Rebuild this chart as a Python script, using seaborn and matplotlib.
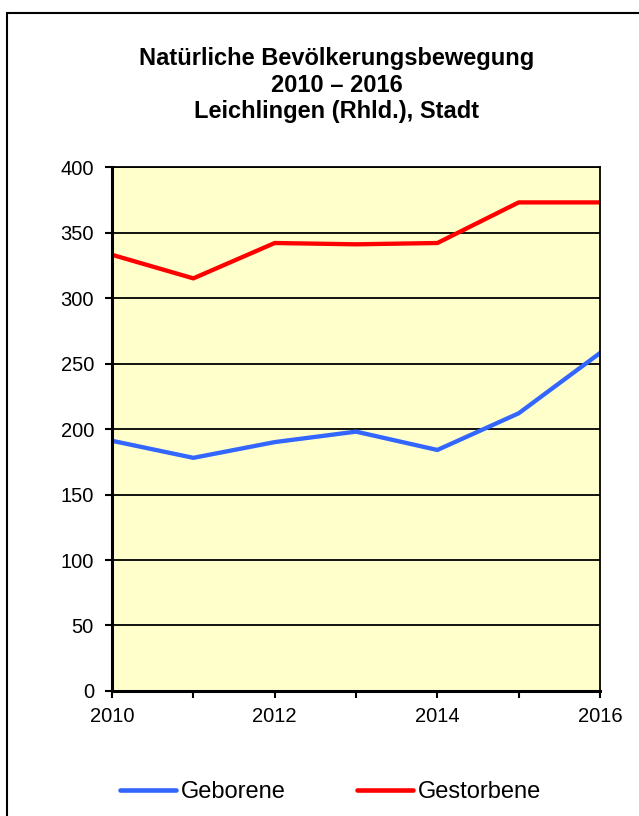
import numpy as np
import pandas as pd
import seaborn as sns
import matplotlib.pyplot as plt
from matplotlib.patches import Rectangle
from matplotlib.lines import Line2D

# values
years = [2010, 2011, 2012, 2013, 2014, 2015, 2016]
geborene = [191, 178, 190, 198, 184, 212, 258]
gestorbene = [333, 315, 342, 341, 342, 373, 373]
series_names = ["Geborene", "Gestorbene"]
series_colors = ["#3366FF", "#FF0000"]
title_lines = ["Natürliche Bevölkerungsbewegung", "2010 \u2013 2016", "Leichlingen (Rhld.), Stadt"]

df = pd.DataFrame({
    "Jahr": years * 2,
    "Anzahl": geborene + gestorbene,
    "Reihe": [series_names[0]] * len(years) + [series_names[1]] * len(years),
})

sns.set_style("white")
plt.rcParams["font.family"] = ["Liberation Sans", "DejaVu Sans"]
plt.rcParams["text.color"] = "black"
plt.rcParams["xtick.color"] = "black"
plt.rcParams["ytick.color"] = "black"

fig = plt.figure(figsize=(6.39, 8.16), dpi=100)
ax = fig.add_axes([0.1753, 0.1532, 0.7637, 0.6421])
ax.set_facecolor("#FFFFCC")

sns.lineplot(data=df, x="Jahr", y="Anzahl", hue="Reihe", palette=series_colors,
             linewidth=3.1, ax=ax, legend=False)

ax.set_xlim(2010, 2016)
ax.set_ylim(0, 400)
ax.set_yticks(np.arange(0, 401, 50))
ax.set_xticks(years)
ax.set_xticklabels([str(y) if y % 2 == 0 else "" for y in years])
ax.set_xlabel("")
ax.set_ylabel("")
ax.grid(axis="y", color="black", linewidth=1.3)
ax.set_axisbelow(True)
ax.tick_params(axis="both", direction="out", length=5, width=1.5,
               labelsize=14.5, left=True, bottom=True)
ax.tick_params(axis="x", pad=6.5)
ax.tick_params(axis="y", pad=8)
for side in ["left", "bottom"]:
    ax.spines[side].set_linewidth(2.2)
    ax.spines[side].set_color("black")
for side in ["top", "right"]:
    ax.spines[side].set_linewidth(1.3)
    ax.spines[side].set_color("black")
    ax.spines[side].set_visible(True)

fig.text(0.527, 0.8958, "\n".join(title_lines), ha="center", va="center",
         fontsize=17, fontweight="bold", linespacing=1.17)

handles = [Line2D([], [], color=c, linewidth=3.3, solid_capstyle="round")
           for c in series_colors]
fig.legend(handles, series_names, loc="center", bbox_to_anchor=(0.517, 0.0294),
           ncol=2, frameon=False, fontsize=17, handlelength=2.37,
           handletextpad=0.21, columnspacing=3.0, borderpad=0, borderaxespad=0)

# outer chart frame (cut off at right and bottom edges)
fig.add_artist(Rectangle((7 / 639, -0.05), 1.0, 1.05 - 13 / 816,
                         transform=fig.transFigure, fill=False,
                         edgecolor="black", linewidth=1.5))

fig.savefig("out.png", dpi=100)
